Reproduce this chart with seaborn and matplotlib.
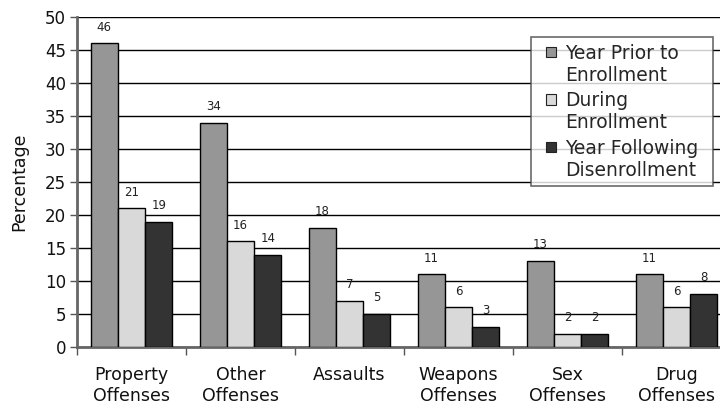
import matplotlib
matplotlib.use("Agg")
import matplotlib.pyplot as plt
from matplotlib.patches import Rectangle
from matplotlib.legend_handler import HandlerPatch
import seaborn as sns
import pandas as pd
import numpy as np

categories = ["Property\nOffenses", "Other\nOffenses", "Assaults", "Weapons\nOffenses",
              "Sex\nOffenses", "Drug\nOffenses"]
series = ["Year Prior to\nEnrollment", "During\nEnrollment", "Year Following\nDisenrollment"]
prior = [46, 34, 18, 11, 13, 11]
during = [21, 16, 7, 6, 2, 6]
following = [19, 14, 5, 3, 2, 8]
colors = ["#969696", "#d9d9d9", "#333333"]
yticks = [0, 5, 10, 15, 20, 25, 30, 35, 40, 45, 50]

rows = []
for s, vals in zip(series, [prior, during, following]):
    for c, v in zip(categories, vals):
        rows.append({"Offense": c, "Period": s, "Percentage": v})
df = pd.DataFrame(rows)

sns.set_style("white")
plt.rcParams["font.family"] = ["DejaVu Sans"]

fig = plt.figure(figsize=(7.2, 4.07), dpi=100)
ax = fig.add_axes([77 / 720, 60 / 407, 654 / 720, 330 / 407])

sns.barplot(data=df, x="Offense", y="Percentage", hue="Period", order=categories,
            hue_order=series, palette=colors, width=0.75, edgecolor="black",
            linewidth=1.0, saturation=1, ax=ax, zorder=3)

for cont in ax.containers:
    ax.bar_label(cont, labels=[f"{int(v)}" for v in cont.datavalues], padding=7,
                 fontsize=8.5, color="#222222")

ax.set_ylim(0, 50)
ax.set_xlim(-0.5, 5.5)
ax.set_yticks(yticks)
ax.yaxis.grid(True, color="black", linewidth=1.0, zorder=0)
ax.set_axisbelow(True)

ax.set_xticks(np.arange(-0.5, 6.0, 1.0))
ax.set_xticklabels([])
ax.set_xticks(np.arange(6), minor=True)
ax.set_xticklabels(categories, minor=True, fontsize=12.5, color="#111111")
ax.tick_params(axis="x", which="minor", length=0, pad=14)
ax.tick_params(axis="x", which="major", length=6, width=1, color="#555555", direction="out")
ax.tick_params(axis="y", length=5, width=1, color="#555555", labelsize=12,
               labelcolor="#111111", pad=3)
ax.tick_params(bottom=True, left=True)

for side in ["top", "right"]:
    ax.spines[side].set_visible(False)
ax.spines["left"].set_color("#666666")
ax.spines["left"].set_linewidth(2)
ax.spines["bottom"].set_color("#666666")
ax.spines["bottom"].set_linewidth(2)

ax.set_xlabel("")
ax.set_ylabel("Percentage", fontsize=12.5, labelpad=12, color="#111111")


def small_square(legend, orig_handle, xdescent, ydescent, width, height, fontsize):
    # square sits beside the first line of each two-line label
    side = 7.5
    y = height - 0.85 * fontsize - side / 2 - ydescent + 1.2 * fontsize
    return Rectangle((width - side - xdescent, y), side, side)


handles, labels = ax.get_legend_handles_labels()
leg_left, leg_top, leg_w = 531 / 720, 1 - 37 / 407, 182 / 720
leg = ax.legend(handles, labels, loc="upper left", mode="expand",
                bbox_to_anchor=(leg_left, leg_top - 0.4, leg_w, 0.4),
                bbox_transform=fig.transFigure,
                borderaxespad=0, frameon=True, fontsize=13.5,
                handlelength=1.0, handleheight=0.7, handletextpad=0.45,
                labelspacing=0.35, borderpad=0.35, fancybox=False,
                handler_map={Rectangle: HandlerPatch(patch_func=small_square)})
leg.get_frame().set_edgecolor("#444444")
leg.get_frame().set_linewidth(1.2)
for h in leg.legend_handles:
    h.set_edgecolor("#222222")
    h.set_linewidth(0.8)

fig.savefig("out.png", dpi=100)
